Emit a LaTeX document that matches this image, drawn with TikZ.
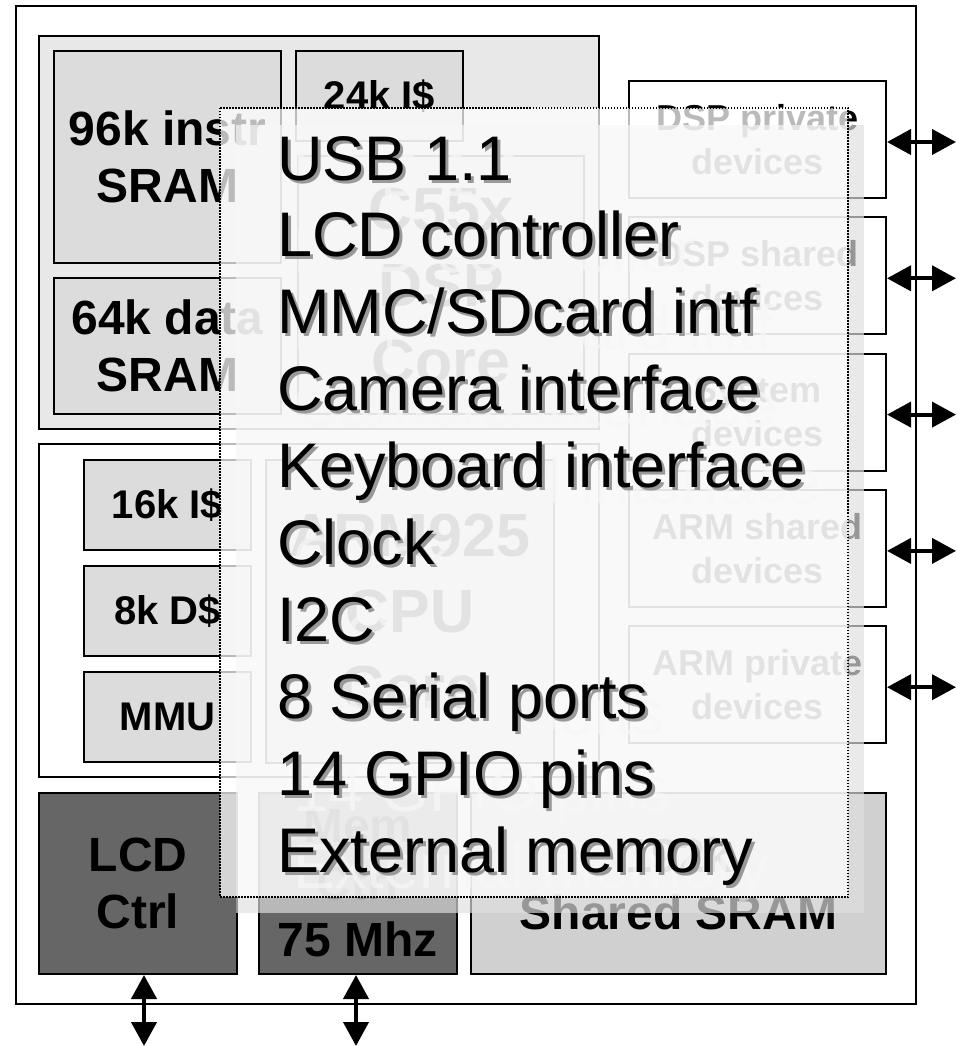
\documentclass[tikz,border=0pt]{standalone}
\usepackage{fontspec}
\setmainfont{Liberation Sans}
\usetikzlibrary{arrows.meta}

\definecolor{dspgray}{HTML}{E8E8E8}
\definecolor{memgray}{HTML}{DCDCDC}
\definecolor{ctrlgray}{HTML}{666666}
\definecolor{sramgray}{HTML}{D0D0D0}
\definecolor{ghostgray}{HTML}{E0E0E0}

\newcommand\bigbold{\bfseries\fontsize{48}{57}\selectfont}
\newcommand\midbold{\bfseries\fontsize{40}{48}\selectfont}
\newcommand\devbold{\bfseries\fontsize{36}{44}\selectfont}
\newcommand\corebold{\bfseries\fontsize{61}{76}\selectfont}
\newcommand\listfont{\fontsize{63}{76.9}\selectfont}
\newcommand\featurelist{USB 1.1\\LCD controller\\MMC/SDcard intf\\Camera interface\\
  Keyboard interface\\Clock\\I2C\\8 Serial ports\\14 GPIO pins\\External memory}

\begin{document}
\begin{tikzpicture}[x=1pt, y=-1pt,
  blk/.style={draw=black, line width=2pt, anchor=north west, inner sep=0pt,
    align=center, font=\bigbold},
  cache/.style={blk, fill=memgray, minimum width=167pt, minimum height=90pt,
    font=\midbold},
  dev/.style={blk, fill=white, minimum width=257pt, minimum height=117pt,
    font=\devbold},
  io/.style={line width=4pt,
    {Triangle[length=24pt,width=25pt]}-{Triangle[length=24pt,width=25pt]}},
  list/.style={anchor=base west, inner sep=0pt, align=left, font=\listfont}]
  \useasboundingbox (0,0) rectangle (956,1046);
  \node[draw, line width=2pt, anchor=north west, minimum width=900pt,
    minimum height=998pt] (chip) at (15,5) {};

  % DSP half
  \node[blk, fill=dspgray, minimum width=560pt, minimum height=393pt] (dsp) at (38,35) {};
  \node[blk, fill=memgray, minimum width=227pt, minimum height=212pt] (iram) at (53,50) {96k instr\\SRAM};
  \node[blk, fill=memgray, minimum width=227pt, minimum height=136pt] (dram) at (53,277) {64k data\\SRAM};
  \node[cache] (dspicache) at (295,50) {24k I\$};
  \node[blk, fill=memgray, minimum width=286pt, minimum height=258pt,
    font=\corebold] (dspcore) at (297,155) {C55x\\DSP\\Core};

  % ARM half
  \node[blk, fill=white, minimum width=560pt, minimum height=333pt] (arm) at (38,443) {};
  \node[cache] (armicache) at (83,459) {16k I\$};
  \node[cache] (armdcache) at (83,565) {8k D\$};
  \node[cache] (mmu) at (83,671) {MMU};
  \node[blk, fill=memgray, minimum width=288pt, minimum height=303pt,
    font=\corebold] (armcore) at (265,459) {ARM925\\CPU\\Core};

  % bottom row
  \node[blk, fill=ctrlgray, minimum width=198pt, minimum height=181pt] (lcd) at (38,792) {LCD\\Ctrl};
  \node[blk, fill=ctrlgray, minimum width=198pt, minimum height=181pt] (memctrl) at (258,792) {Mem\\Ctrl\\75 Mhz};
  \node[blk, fill=sramgray, minimum width=415pt, minimum height=181pt] (sram) at (470,792) {192k\\Shared SRAM};

  % peripheral buses
  \coordinate (rim) at (956,0);
  \foreach \name/\txt [count=\i from 0] in {dsppriv/DSP private, dspshared/DSP shared,
      sysdev/System, armshared/ARM shared, armpriv/ARM private} {
    \node[dev] (\name) at (628,80+136.3*\i) {\txt\\devices};
    \draw[io] ([yshift=-2.5pt]\name.east) -- ([yshift=-2.5pt]\name.east -| rim);
  }
  \coordinate (lcdpin) at (144,1046);
  \coordinate (mempin) at (356,1046);
  \draw[io] (lcdpin |- lcd.south) -- (lcdpin);
  \draw[io] (mempin |- memctrl.south) -- (mempin);

  % list box with its shadow (base = last line)
  \fill[ghostgray, opacity=0.68] (236,125) rectangle (864,913);
  \node[list, text=ghostgray, opacity=0.68] (ghost) at (293,888.1) {\featurelist};
  \draw[line width=1.5pt, dash pattern=on 1.5pt off 1.5pt, fill=white, fill opacity=0.73]
    (220,108) rectangle (848,897);
  \node[list, text=black!40] (shade) at (280,875.1) {\featurelist};
  \node[list] (features) at (277,872.1) {\featurelist};
\end{tikzpicture}
\end{document}
